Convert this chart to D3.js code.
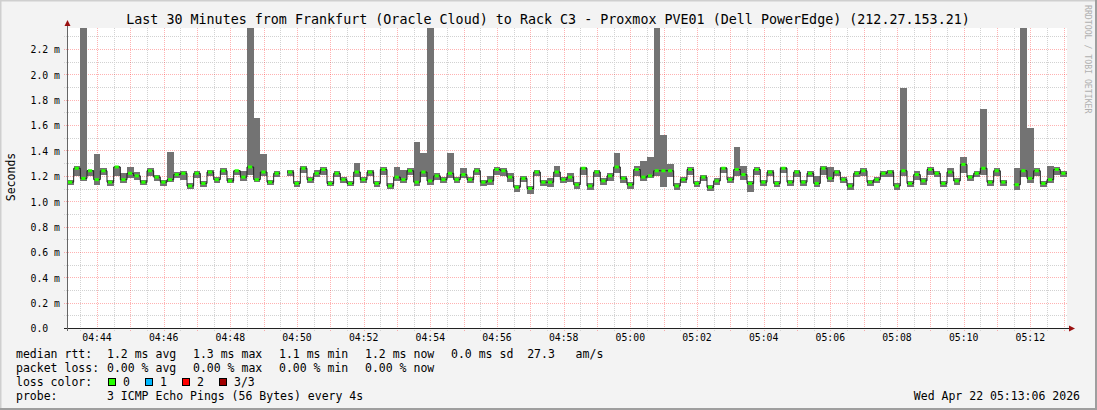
<!DOCTYPE html>
<html lang="en">
<head>
<meta charset="UTF-8">
<title>SmokePing - Proxmox PVE01</title>
<script src="https://cdnjs.cloudflare.com/ajax/libs/d3/7.8.5/d3.min.js"></script>
<style>
  body { margin: 0; background: #f3f3f3; }
  svg { display: block; }
  text { font-family: "DejaVu Sans Mono", monospace; fill: #000; white-space: pre; }
</style>
</head>
<body>
<div id="chart"></div>
<script>
const title = "Last 30 Minutes from Frankfurt (Oracle Cloud) to Rack C3 - Proxmox PVE01 (Dell PowerEdge) (212.27.153.21)";
const startTime = new Date(2026, 3, 22, 4, 43, 6);
const endTime = new Date(2026, 3, 22, 5, 13, 6);
const stepSeconds = 12;
const yMax = 2.366; // ms, top of the plot

const yTicks = [0, 0.2, 0.4, 0.6, 0.8, 1.0, 1.2, 1.4, 1.6, 1.8, 2.0, 2.2];
const yTickLabels = ["0.0", "0.2 m", "0.4 m", "0.6 m", "0.8 m", "1.0 m", "1.2 m", "1.4 m", "1.6 m", "1.8 m", "2.0 m", "2.2 m"];

// median rtt per 12 s step (ms), null = no data
const median = [
  1.15, 1.26, 1.18, 1.24, 1.17, 1.24, 1.15, 1.27, 1.17, 1.22,
  1.20, 1.15, 1.24, 1.19, 1.15, 1.17, 1.21, 1.22, 1.12, 1.22,
  1.14, 1.23, 1.17, 1.24, 1.16, 1.24, 1.19, 1.27, 1.17, 1.23,
  1.15, 1.22, null, 1.23, 1.14, 1.26, 1.17, 1.22, 1.25, 1.14,
  1.22, 1.17, 1.14, 1.23, 1.17, 1.23, 1.14, 1.25, 1.12, 1.19,
  1.17, 1.24, 1.15, 1.23, 1.16, 1.20, 1.17, 1.22, 1.17, 1.21,
  1.17, 1.24, 1.15, 1.16, 1.25, 1.24, 1.19, 1.11, 1.18, 1.10,
  1.23, 1.15, 1.15, 1.23, 1.17, 1.19, 1.13, 1.26, 1.12, 1.23,
  1.16, 1.20, 1.27, 1.18, 1.13, 1.25, 1.19, 1.20, 1.24, 1.24,
  1.24, 1.12, 1.17, 1.25, 1.14, 1.19, 1.11, 1.16, 1.26, 1.17,
  1.25, 1.21, 1.14, 1.25, 1.15, 1.23, 1.14, 1.26, 1.15, 1.23,
  1.15, 1.22, 1.14, 1.26, 1.18, 1.23, 1.17, 1.12, 1.22, 1.24,
  1.15, 1.17, 1.22, 1.23, 1.12, 1.24, 1.14, 1.21, 1.16, 1.25,
  1.22, 1.14, 1.23, 1.16, 1.29, 1.19, 1.22, 1.26, 1.15, 1.24,
  1.15, null, 1.13, 1.24, 1.18, 1.24, 1.14, 1.17, 1.25, 1.22
];
// smoke: highest and lowest ping of each step (ms)
const smokeHi = [
  1.17, 1.28, 2.60, 1.25, 1.37, 1.26, 1.17, 1.28, 1.22, 1.27,
  1.23, 1.17, 1.26, 1.21, 1.17, 1.39, 1.23, 1.24, 1.14, 1.24,
  1.16, 1.25, 1.19, 1.26, 1.18, 1.25, 1.24, 2.60, 1.66, 1.37,
  1.17, 1.24, null, 1.25, 1.16, 1.28, 1.19, 1.25, 1.27, 1.16,
  1.24, 1.19, 1.16, 1.30, 1.19, 1.25, 1.16, 1.27, 1.14, 1.27,
  1.25, 1.26, 1.47, 1.38, 2.60, 1.22, 1.19, 1.38, 1.19, 1.26,
  1.19, 1.26, 1.17, 1.20, 1.27, 1.26, 1.22, 1.13, 1.20, 1.12,
  1.25, 1.17, 1.18, 1.28, 1.19, 1.22, 1.15, 1.27, 1.14, 1.25,
  1.18, 1.22, 1.38, 1.20, 1.15, 1.28, 1.32, 1.35, 2.60, 1.52,
  1.29, 1.14, 1.19, 1.27, 1.16, 1.21, 1.13, 1.18, 1.27, 1.19,
  1.43, 1.28, 1.16, 1.27, 1.17, 1.25, 1.16, 1.27, 1.17, 1.25,
  1.17, 1.24, 1.20, 1.28, 1.27, 1.25, 1.19, 1.14, 1.24, 1.26,
  1.17, 1.19, 1.24, 1.25, 1.14, 1.89, 1.16, 1.24, 1.18, 1.27,
  1.24, 1.16, 1.26, 1.18, 1.35, 1.21, 1.24, 1.73, 1.17, 1.26,
  1.17, null, 1.26, 2.60, 1.58, 1.26, 1.16, 1.28, 1.27, 1.24
];
const smokeLo = [
  1.13, 1.20, 1.16, 1.20, 1.13, 1.21, 1.12, 1.20, 1.14, 1.18,
  1.17, 1.13, 1.20, 1.16, 1.12, 1.15, 1.18, 1.17, 1.10, 1.18,
  1.11, 1.20, 1.14, 1.21, 1.14, 1.21, 1.16, 1.21, 1.15, 1.20,
  1.13, 1.19, null, 1.20, 1.11, 1.22, 1.14, 1.19, 1.21, 1.12,
  1.19, 1.14, 1.12, 1.19, 1.14, 1.20, 1.11, 1.21, 1.10, 1.16,
  1.14, 1.21, 1.12, 1.19, 1.13, 1.17, 1.14, 1.18, 1.14, 1.18,
  1.14, 1.21, 1.12, 1.13, 1.21, 1.20, 1.15, 1.07, 1.15, 1.06,
  1.20, 1.12, 1.11, 1.19, 1.14, 1.15, 1.10, 1.21, 1.09, 1.19,
  1.13, 1.16, 1.22, 1.14, 1.10, 1.20, 1.16, 1.18, 1.20, 1.11,
  1.19, 1.09, 1.14, 1.21, 1.11, 1.16, 1.08, 1.13, 1.22, 1.14,
  1.20, 1.17, 1.07, 1.21, 1.12, 1.20, 1.11, 1.22, 1.12, 1.19,
  1.12, 1.19, 1.11, 1.21, 1.15, 1.20, 1.14, 1.09, 1.19, 1.20,
  1.12, 1.14, 1.19, 1.19, 1.09, 1.20, 1.11, 1.17, 1.13, 1.21,
  1.19, 1.11, 1.19, 1.13, 1.22, 1.16, 1.19, 1.21, 1.12, 1.20,
  1.12, null, 1.09, 1.19, 1.14, 1.20, 1.11, 1.14, 1.21, 1.19
];

const rttStats = ["1.2 ms avg", "1.3 ms max", "1.1 ms min", "1.2 ms now", "0.0 ms sd  27.3   am/s"];
const lossStats = ["0.00 % avg", "0.00 % max", "0.00 % min", "0.00 % now"];
const lossLabels = ["0", "1", "2", "3/3"];
const lossColors = ["#26ff00", "#00b8ff", "#ff0000", "#a10000"];
const probeText = "3 ICMP Echo Pings (56 Bytes) every 4s";
const stampText = "Wed Apr 22 05:13:06 2026";

const W = 1097, H = 410;
const plot = {left: 67, right: 1067, top: 28, bottom: 328};

const svg = d3.select("#chart").append("svg")
    .attr("width", W).attr("height", H);

// background + 3d frame
svg.append("rect").attr("width", W).attr("height", H).attr("fill", "#f3f3f3");
svg.append("path").attr("d", `M0,${H} V0 H${W}`).attr("fill", "none")
    .attr("stroke", "#cfcfcf").attr("stroke-width", 3);
svg.append("path").attr("d", `M0,${H - 1} H${W - 1} V0`).attr("fill", "none")
    .attr("stroke", "#9e9e9e").attr("stroke-width", 2);

svg.append("rect")
    .attr("x", plot.left).attr("y", plot.top)
    .attr("width", plot.right - plot.left).attr("height", plot.bottom - plot.top)
    .attr("fill", "#fff");

const x = d3.scaleTime().domain([startTime, endTime]).range([plot.left, plot.right]);
const y = d3.scaleLinear().domain([0, yMax]).range([plot.bottom, plot.top]);
const px = v => Math.round(v) + 0.5;

// grid
const grid = svg.append("g").attr("shape-rendering", "crispEdges").attr("stroke-dasharray", "1,1");
const minorY = d3.range(0.1, 2.35, 0.2);
const minorColor = "#d2d2d2", majorColor = "rgba(255,0,0,0.3)";
grid.selectAll(".hmin").data(minorY).join("line")
    .attr("x1", plot.left - 3).attr("x2", plot.right + 1)
    .attr("y1", d => px(y(d))).attr("y2", d => px(y(d)))
    .attr("stroke", minorColor);
grid.selectAll(".vmin").data(d3.timeSecond.every(30).range(startTime, endTime)
        .filter(d => d.getSeconds() === 30))
    .join("line")
    .attr("x1", d => px(x(d))).attr("x2", d => px(x(d)))
    .attr("y1", plot.top).attr("y2", plot.bottom + 3)
    .attr("stroke", minorColor);
grid.selectAll(".hmaj").data(yTicks.slice(1)).join("line")
    .attr("x1", plot.left - 3).attr("x2", plot.right + 1)
    .attr("y1", d => px(y(d))).attr("y2", d => px(y(d)))
    .attr("stroke", majorColor);
grid.selectAll(".vmaj").data(d3.timeMinute.every(1).range(startTime, endTime)).join("line")
    .attr("x1", d => px(x(d))).attr("x2", d => px(x(d)))
    .attr("y1", plot.top).attr("y2", plot.bottom + 3)
    .attr("stroke", majorColor);

// data
svg.append("clipPath").attr("id", "clip").append("rect")
    .attr("x", plot.left).attr("y", plot.top)
    .attr("width", plot.right - plot.left).attr("height", plot.bottom - plot.top);
const data = median.map((v, i) => ({
  t0: d3.timeSecond.offset(startTime, i * stepSeconds),
  t1: d3.timeSecond.offset(startTime, (i + 1) * stepSeconds),
  v, hi: smokeHi[i], lo: smokeLo[i]
}));
const g = svg.append("g").attr("clip-path", "url(#clip)");

g.selectAll(".smoke").data(data.filter(d => d.v != null)).join("rect")
    .attr("x", d => x(d.t0)).attr("width", d => x(d.t1) - x(d.t0))
    .attr("y", d => y(Math.max(d.hi, d.v)))
    .attr("height", d => y(Math.min(d.lo, d.v)) - y(Math.max(d.hi, d.v)))
    .attr("fill", "#737373").attr("shape-rendering", "crispEdges");

const steps = data.flatMap(d => [{t: d.t0, v: d.v}, {t: d.t1, v: d.v}]);
g.append("path").datum(steps)
    .attr("d", d3.line().defined(d => d.v != null).x(d => x(d.t)).y(d => y(d.v)))
    .attr("fill", "none").attr("stroke", "#202020").attr("stroke-width", 1);

g.selectAll(".med").data(data.filter(d => d.v != null)).join("line")
    .attr("x1", d => x(d.t0) + 1).attr("x2", d => x(d.t1) - 1.5)
    .attr("y1", d => y(d.v)).attr("y2", d => y(d.v))
    .attr("stroke", lossColors[0]).attr("stroke-width", 3);

// axes
svg.append("line").attr("x1", plot.left - 3).attr("x2", plot.right + 4)
    .attr("y1", plot.bottom + 0.5).attr("y2", plot.bottom + 0.5)
    .attr("stroke", "#222").attr("shape-rendering", "crispEdges");
svg.append("line").attr("x1", plot.left + 0.5).attr("x2", plot.left + 0.5)
    .attr("y1", plot.top - 4).attr("y2", plot.bottom + 3)
    .attr("stroke", "#666").attr("shape-rendering", "crispEdges");
svg.append("path")
    .attr("d", `M${plot.left - 2.5},${plot.top - 2} L${plot.left + 3.5},${plot.top - 2} L${plot.left + 0.5},${plot.top - 8} Z`)
    .attr("fill", "#9a1010");
svg.append("path")
    .attr("d", `M${plot.right + 2},${plot.bottom - 2.5} L${plot.right + 2},${plot.bottom + 3.5} L${plot.right + 8},${plot.bottom + 0.5} Z`)
    .attr("fill", "#9a1010");

// tick labels
svg.selectAll(".ylab").data(yTicks).join("text")
    .attr("x", 30.5).attr("y", d => y(d) + 4.3)
    .attr("font-size", "9.8px")
    .text((d, i) => yTickLabels[i]);
svg.selectAll(".xlab").data(d3.timeMinute.every(2).range(startTime, endTime)).join("text")
    .attr("x", d => x(d)).attr("y", 341)
    .attr("text-anchor", "middle").attr("font-size", "9.8px")
    .text(d3.timeFormat("%H:%M"));

// titles
svg.append("text").attr("x", 548).attr("y", 24)
    .attr("text-anchor", "middle").attr("font-size", "13.35px").text(title);
svg.append("text").attr("transform", "translate(15,177) rotate(-90)")
    .attr("text-anchor", "middle").attr("font-size", "11.5px").text("Seconds");
svg.append("text").attr("transform", "translate(1085,5) rotate(90)")
    .attr("font-size", "8.2px").style("fill", "#b0b0b0").text("RRDTOOL / TOBI OETIKER");

// legend
const leg = svg.append("g").attr("font-size", "11.5px");
const rowY = [357.8, 371.8, 385.8, 399.8];
leg.append("text").attr("x", 16).attr("y", rowY[0]).text("median rtt:");
rttStats.forEach((s, k) => leg.append("text").attr("x", 107 + k * 86).attr("y", rowY[0]).text(s));
leg.append("text").attr("x", 16).attr("y", rowY[1]).text("packet loss:");
lossStats.forEach((s, k) => leg.append("text").attr("x", 107 + k * 86).attr("y", rowY[1]).text(s));
leg.append("text").attr("x", 16).attr("y", rowY[2]).text("loss color:");
lossLabels.forEach((s, k) => {
  leg.append("rect").attr("x", 108.5 + k * 37).attr("y", 378.5).attr("width", 7).attr("height", 7)
      .attr("fill", lossColors[k]).attr("stroke", "#000").attr("shape-rendering", "crispEdges");
  leg.append("text").attr("x", 123 + k * 37).attr("y", rowY[2]).text(s);
});
leg.append("text").attr("x", 16).attr("y", rowY[3]).text("probe:");
leg.append("text").attr("x", 107).attr("y", rowY[3]).text(probeText);
leg.append("text").attr("x", 1080).attr("y", rowY[3]).attr("text-anchor", "end").text(stampText);
</script>
</body>
</html>
